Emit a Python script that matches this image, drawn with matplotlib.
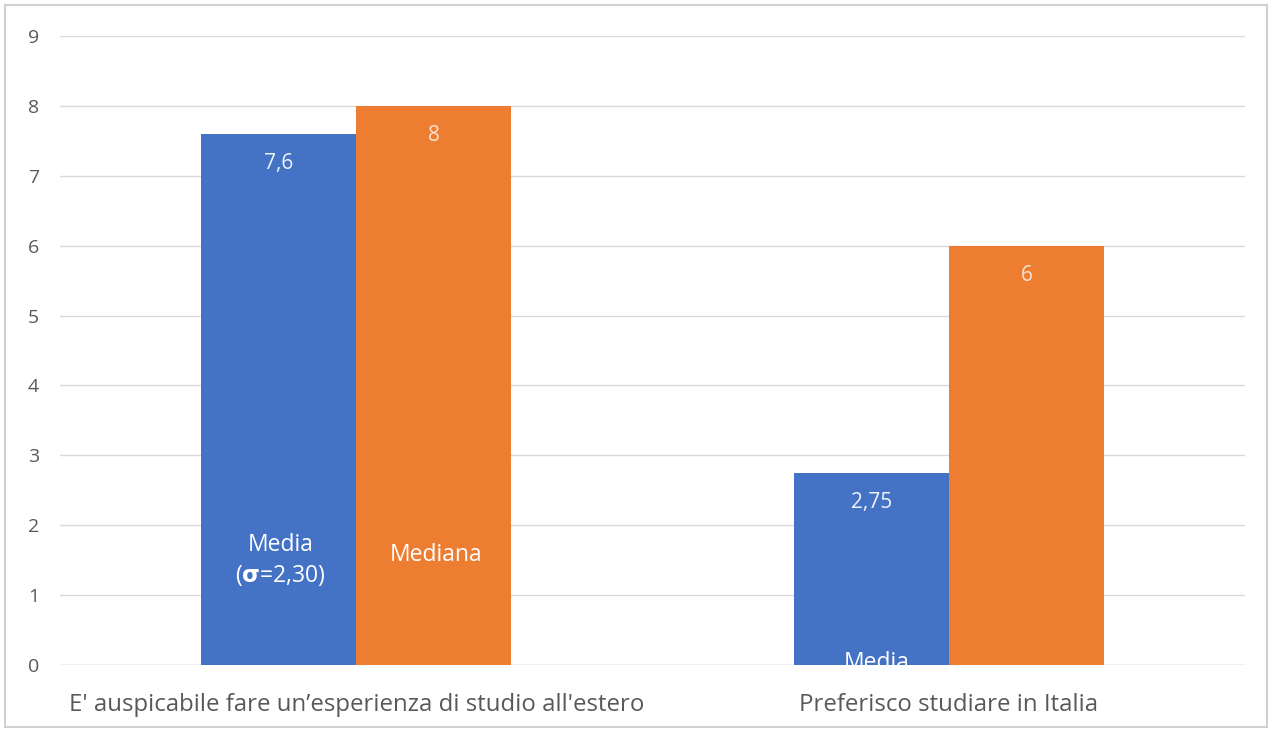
import matplotlib
matplotlib.use("Agg")
import matplotlib.pyplot as plt
from matplotlib.patches import Rectangle
import numpy as np

categories = ["E' auspicabile fare un’esperienza di studio all'estero", "Preferisco studiare in Italia"]
media = [7.6, 2.75]
mediana = [8, 6]
media_labels = ["7,6", "2,75"]
mediana_labels = ["8", "6"]
yticks = list(range(0, 10))

blue = "#4472C4"
orange = "#ED7D31"

fig = plt.figure(figsize=(12.72, 7.31), dpi=100)
ax = fig.add_axes([60/1272, 1-665/731, (1245-60)/1272, (665-36)/731])

x = np.arange(len(categories))
w = 0.262
b1 = ax.bar(x - w/2, media, w, color=blue, zorder=2)
b2 = ax.bar(x + w/2, mediana, w, color=orange, zorder=2)

for rect, lab in zip(b1, media_labels):
    ax.text(rect.get_x() + rect.get_width()/2, rect.get_height() - 0.42, lab,
            ha="center", va="center", color="#EEF2FA", fontsize=15, family="Open Sans", zorder=3)
for rect, lab in zip(b2, mediana_labels):
    ax.text(rect.get_x() + rect.get_width()/2, rect.get_height() - 0.42, lab,
            ha="center", va="center", color="#F8E3D0", fontsize=15, family="Open Sans", zorder=3)

# overlay annotations
ax.text(x[0] - w/2 + 0.003, 1.72, "Media", ha="center", va="center", color="white",
        fontsize=16.5, family="Open Sans", zorder=4)
ax.text(x[0] - w/2 + 0.003, 1.28, r"($\mathbf{\sigma}$=2,30)", ha="center", va="center", color="white",
        fontsize=16.5, family="Open Sans", zorder=4)
ax.text(x[0] + w/2 + 0.003, 1.57, "Mediana", ha="center", va="center", color="white",
        fontsize=16.5, family="Open Sans", zorder=4)
ax.text(x[1] - w/2 + 0.01, 0.03, "Media", ha="center", va="center", color="white",
        fontsize=16.5, family="Open Sans", zorder=4, clip_on=True)

ax.set_xlim(-0.5, 1.5)
ax.set_ylim(0, 9)
ax.set_yticks(yticks)
ax.set_xticks(x)
ax.set_xticklabels(categories, fontsize=17.3, color="#595959", family="Open Sans")
ax.tick_params(axis="y", labelsize=14, labelcolor="#595959", length=0, pad=15)
ax.tick_params(axis="x", length=0, pad=20)
for lab in ax.get_yticklabels():
    lab.set_family("Open Sans")
ax.grid(axis="y", color="#D9D9D9", linewidth=1, zorder=0)
for s in ax.spines.values():
    s.set_visible(False)
ax.axhline(0, color="#D9D9D9", linewidth=1, zorder=1)

fig.patches.append(Rectangle((5/1272, 1-727/731), 1262/1272, 722/731, transform=fig.transFigure,
                             fill=False, edgecolor="#D0D0D0", linewidth=1.5))

fig.savefig("out.png", dpi=100)
